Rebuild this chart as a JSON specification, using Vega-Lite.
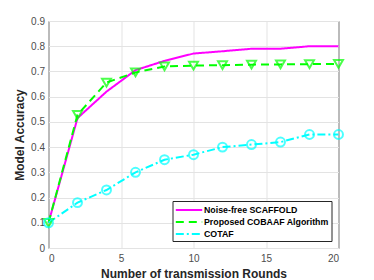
{
  "$schema": "https://vega.github.io/schema/vega-lite/v6.json",
  "width": 290,
  "height": 227,
  "autosize": {"type": "none"},
  "padding": {"left": 48.5, "top": 21, "right": 35.5, "bottom": 32},
  "background": "white",
  "config": {
    "view": {"stroke": "#262626", "strokeWidth": 1},
    "font": "Liberation Sans",
    "axis": {
      "grid": true,
      "gridColor": "#e3e3e3",
      "gridWidth": 1,
      "domain": false,
      "ticks": false,
      "labelColor": "#4d4d4d",
      "labelFontSize": 10,
      "titleFontSize": 12,
      "titleFontWeight": "bold",
      "titleColor": "#262626"
    }
  },
  "data": {
    "values": [
      {"x": 0, "y": 0.1, "s": "Noise-free SCAFFOLD"},
      {"x": 2, "y": 0.515, "s": "Noise-free SCAFFOLD"},
      {"x": 4, "y": 0.62, "s": "Noise-free SCAFFOLD"},
      {"x": 6, "y": 0.705, "s": "Noise-free SCAFFOLD"},
      {"x": 8, "y": 0.742, "s": "Noise-free SCAFFOLD"},
      {"x": 10, "y": 0.771, "s": "Noise-free SCAFFOLD"},
      {"x": 12, "y": 0.78, "s": "Noise-free SCAFFOLD"},
      {"x": 14, "y": 0.79, "s": "Noise-free SCAFFOLD"},
      {"x": 16, "y": 0.79, "s": "Noise-free SCAFFOLD"},
      {"x": 18, "y": 0.8, "s": "Noise-free SCAFFOLD"},
      {"x": 20, "y": 0.8, "s": "Noise-free SCAFFOLD"},
      {"x": 0, "y": 0.1, "s": "Proposed COBAAF Algorithm"},
      {"x": 2, "y": 0.528, "s": "Proposed COBAAF Algorithm"},
      {"x": 4, "y": 0.656, "s": "Proposed COBAAF Algorithm"},
      {"x": 6, "y": 0.696, "s": "Proposed COBAAF Algorithm"},
      {"x": 8, "y": 0.72, "s": "Proposed COBAAF Algorithm"},
      {"x": 10, "y": 0.723, "s": "Proposed COBAAF Algorithm"},
      {"x": 12, "y": 0.725, "s": "Proposed COBAAF Algorithm"},
      {"x": 14, "y": 0.727, "s": "Proposed COBAAF Algorithm"},
      {"x": 16, "y": 0.728, "s": "Proposed COBAAF Algorithm"},
      {"x": 18, "y": 0.729, "s": "Proposed COBAAF Algorithm"},
      {"x": 20, "y": 0.73, "s": "Proposed COBAAF Algorithm"},
      {"x": 0, "y": 0.1, "s": "COTAF"},
      {"x": 2, "y": 0.18, "s": "COTAF"},
      {"x": 4, "y": 0.23, "s": "COTAF"},
      {"x": 6, "y": 0.3, "s": "COTAF"},
      {"x": 8, "y": 0.35, "s": "COTAF"},
      {"x": 10, "y": 0.37, "s": "COTAF"},
      {"x": 12, "y": 0.4, "s": "COTAF"},
      {"x": 14, "y": 0.41, "s": "COTAF"},
      {"x": 16, "y": 0.42, "s": "COTAF"},
      {"x": 18, "y": 0.45, "s": "COTAF"},
      {"x": 20, "y": 0.45, "s": "COTAF"}
    ]
  },
  "encoding": {
    "x": {
      "field": "x", "type": "quantitative",
      "scale": {"domain": [0, 20], "nice": false},
      "axis": {"values": [0, 5, 10, 15, 20], "title": "Number of transmission Rounds", "titlePadding": 5, "labelPadding": 5}
    },
    "y": {
      "field": "y", "type": "quantitative",
      "scale": {"domain": [0, 0.9], "nice": false},
      "axis": {"values": [0, 0.1, 0.2, 0.3, 0.4, 0.5, 0.6, 0.7, 0.8, 0.9], "format": ".1~f", "title": "Model Accuracy", "titlePadding": 4, "labelPadding": 4}
    }
  },
  "layer": [
    {
      "mark": {"type": "line", "strokeWidth": 2},
      "encoding": {
        "color": {
          "field": "s", "type": "nominal",
          "scale": {"domain": ["Noise-free SCAFFOLD", "Proposed COBAAF Algorithm", "COTAF"], "range": ["#ff00ff", "#00ff00", "#00ffff"]},
          "legend": {
            "title": null,
            "orient": "bottom-right",
            "offset": 7,
            "symbolType": "M-2.2,0H2.2",
            "symbolSize": 144,
            "symbolStrokeWidth": 2,
            "symbolOffset": 7.5,
            "labelFontSize": 8.8,
            "labelFontWeight": "bold",
            "labelColor": "#000000",
            "labelOffset": 8,
            "rowPadding": -1,
            "strokeColor": "#262626",
            "fillColor": "white",
            "padding": 2
          }
        },
        "strokeDash": {
          "field": "s", "type": "nominal",
          "scale": {"domain": ["Noise-free SCAFFOLD", "Proposed COBAAF Algorithm", "COTAF"], "range": [[1, 0], [8, 5], [8, 3, 2, 3]]},
          "legend": {"title": null}
        },
        "order": {"field": "x"}
      }
    },
    {
      "transform": [{"filter": "datum.s !== 'Noise-free SCAFFOLD'"}],
      "mark": {"type": "point", "filled": false, "strokeWidth": 2, "size": 80},
      "encoding": {
        "stroke": {
          "field": "s", "type": "nominal",
          "scale": {"domain": ["Proposed COBAAF Algorithm", "COTAF"], "range": ["#00ff00", "#00ffff"]},
          "legend": null
        },
        "shape": {
          "field": "s", "type": "nominal",
          "scale": {"domain": ["Proposed COBAAF Algorithm", "COTAF"], "range": ["triangle-down", "circle"]},
          "legend": null
        }
      }
    }
  ]
}
